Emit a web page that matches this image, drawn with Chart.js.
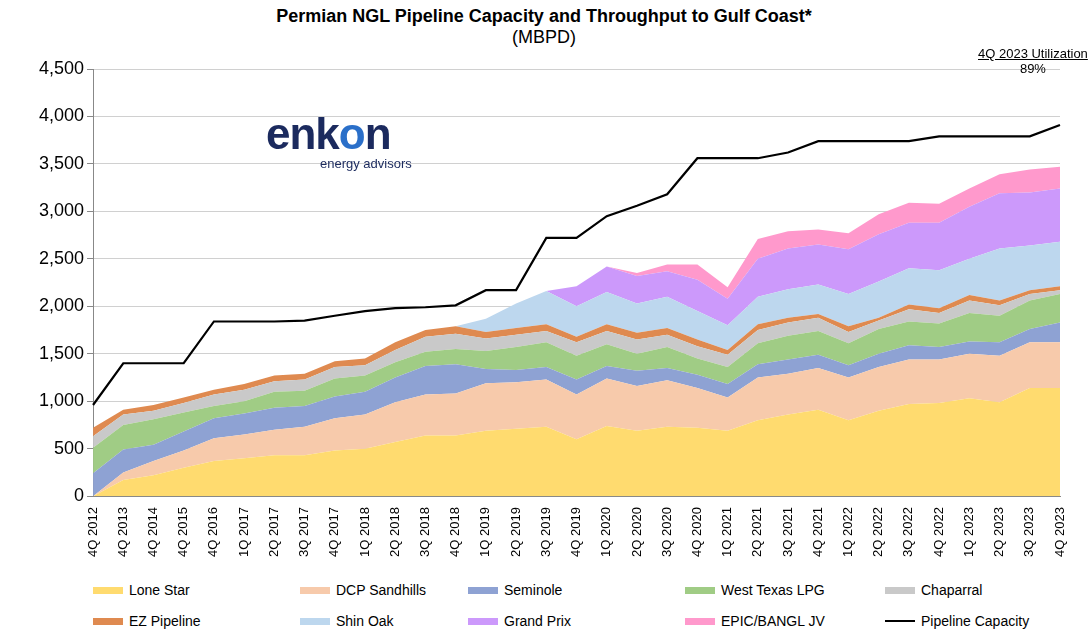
<!DOCTYPE html>
<html>
<head>
<meta charset="utf-8">
<script src="https://cdn.jsdelivr.net/npm/chart.js@4"></script>
<style>
body { margin: 0; background: #fff; font-family: "Liberation Sans", Arial, sans-serif; }
#wrap { position: relative; width: 1088px; height: 640px; }
#title { position: absolute; top: 6px; left: 0; width: 1088px; text-align: center; font-size: 18px; color: #000; }
#util { position: absolute; top: 46px; left: 978px; font-size: 13px; text-align: center; white-space: nowrap; }
#logo { position: absolute; top: 112px; left: 266px; color: #1b2a5e; z-index: 2; }
#chartBox { position: absolute; left: 0; top: 50px; width: 1088px; height: 510px; }
#legend { position: absolute; top: 582px; left: 0; width: 1088px; font-size: 14px; }
.item { position: absolute; display: flex; align-items: center; }
.sw { width: 30px; height: 7px; margin-right: 6px; }
</style>
</head>
<body>
<div id="wrap">
  <div id="chartBox"><canvas id="chart" width="1088" height="510"></canvas></div>
  <div id="title"><b>Permian NGL Pipeline Capacity and Throughput to Gulf Coast*</b><br>(MBPD)</div>
  <div id="util"><u>4Q 2023 Utilization</u><br>89%</div>
  <div id="logo">
    <div style="font-size:44px; font-weight:bold; letter-spacing:-1px; line-height:44px;">enk<span style="color:#2a6fc9;">o</span>n</div>
    <div style="font-size:13px; margin-left:54px;">energy advisors</div>
  </div>
  <div id="legend"></div>
</div>
<script>
var quarters = ["4Q 2012", "4Q 2013", "4Q 2014", "4Q 2015", "4Q 2016", "1Q 2017", "2Q 2017", "3Q 2017", "4Q 2017",
    "1Q 2018", "2Q 2018", "3Q 2018", "4Q 2018", "1Q 2019", "2Q 2019", "3Q 2019", "4Q 2019", "1Q 2020", "2Q 2020",
    "3Q 2020", "4Q 2020", "1Q 2021", "2Q 2021", "3Q 2021", "4Q 2021", "1Q 2022", "2Q 2022", "3Q 2022", "4Q 2022",
    "1Q 2023", "2Q 2023", "3Q 2023", "4Q 2023"];

// top edge of each band (cumulative MBPD)
var loneStarTop = [0, 170, 220, 300, 370, 400, 430, 430, 480, 500, 570, 640, 640, 690, 710, 730, 600, 740, 690,
    730, 720, 690, 800, 860, 910, 800, 900, 970, 980, 1030, 990, 1140, 1140];
var sandhillsTop = [0, 250, 370, 480, 610, 650, 700, 730, 820, 860, 990, 1070, 1080, 1190, 1200, 1230, 1070, 1240, 1160,
    1220, 1140, 1040, 1250, 1290, 1350, 1250, 1360, 1440, 1440, 1500, 1480, 1620, 1620];
var seminoleTop = [240, 490, 540, 680, 820, 870, 930, 950, 1050, 1100, 1250, 1370, 1390, 1340, 1330, 1360, 1230, 1370, 1320,
    1350, 1280, 1180, 1390, 1440, 1490, 1380, 1500, 1590, 1570, 1630, 1620, 1760, 1830];
var wtlpgTop = [510, 750, 810, 880, 950, 1000, 1100, 1110, 1240, 1270, 1410, 1520, 1550, 1530, 1570, 1620, 1480, 1600, 1500,
    1570, 1450, 1360, 1610, 1690, 1740, 1610, 1760, 1840, 1820, 1930, 1900, 2060, 2130];
var chaparralTop = [630, 860, 900, 980, 1070, 1120, 1210, 1230, 1360, 1380, 1540, 1680, 1710, 1660, 1700, 1740, 1620, 1740, 1650,
    1700, 1580, 1490, 1750, 1830, 1880, 1730, 1850, 1970, 1930, 2060, 2010, 2130, 2170];
var ezTop = [720, 910, 960, 1040, 1120, 1180, 1270, 1290, 1420, 1450, 1620, 1750, 1790, 1730, 1770, 1810, 1680, 1810, 1720,
    1770, 1650, 1540, 1810, 1880, 1920, 1790, 1880, 2020, 1980, 2120, 2060, 2170, 2210];
var shinOakTop = [null, null, null, null, null, null, null, null, null, null, null, null, 1790, 1870, 2030, 2160, 2000, 2150, 2030,
    2100, 1950, 1800, 2100, 2180, 2230, 2130, 2260, 2400, 2380, 2500, 2610, 2640, 2680];
var grandPrixTop = [null, null, null, null, null, null, null, null, null, null, null, null, null, null, null, 2160, 2210, 2420, 2320,
    2370, 2280, 2080, 2500, 2610, 2650, 2600, 2760, 2880, 2880, 3050, 3190, 3200, 3240];
var epicTop = [null, null, null, null, null, null, null, null, null, null, null, null, null, null, null, null, 2210, 2420, 2350,
    2440, 2440, 2200, 2710, 2790, 2810, 2770, 2970, 3090, 3080, 3240, 3390, 3440, 3470];
var capacity = [960, 1400, 1400, 1400, 1840, 1840, 1840, 1850, 1900, 1950, 1980, 1990, 2010, 2170, 2170, 2720, 2720, 2950, 3060,
    3180, 3560, 3560, 3560, 3620, 3740, 3740, 3740, 3740, 3790, 3790, 3790, 3790, 3910];
var yTicks = [0, 500, 1000, 1500, 2000, 2500, 3000, 3500, 4000, 4500];

var bands = [
    { label: "Lone Star", data: loneStarTop, color: "#ffdb6f", fill: "origin" },
    { label: "DCP Sandhills", data: sandhillsTop, color: "#f7caab", fill: "-1" },
    { label: "Seminole", data: seminoleTop, color: "#8ea2d3", fill: "-1" },
    { label: "West Texas LPG", data: wtlpgTop, color: "#a0cc85", fill: "-1" },
    { label: "Chaparral", data: chaparralTop, color: "#c9c9c9", fill: "-1" },
    { label: "EZ Pipeline", data: ezTop, color: "#df8a50", fill: "-1" },
    { label: "Shin Oak", data: shinOakTop, color: "#bdd7ee", fill: "-1" },
    { label: "Grand Prix", data: grandPrixTop, color: "#cc99fb", fill: "-1" },
    { label: "EPIC/BANGL JV", data: epicTop, color: "#ff99cc", fill: "-1" }
];

var datasets = bands.map(function(b) {
    return { label: b.label, data: b.data, backgroundColor: b.color, borderColor: b.color, borderWidth: 0,
        pointRadius: 0, fill: b.fill, tension: 0, order: 2 };
});
datasets.push({ label: "Pipeline Capacity", data: capacity, borderColor: "#000", borderWidth: 2.2,
    pointRadius: 0, fill: false, tension: 0, order: 1 });

new Chart(document.getElementById("chart"), {
    type: "line",
    data: { labels: quarters, datasets: datasets },
    options: {
        responsive: false, animation: false, maintainAspectRatio: false,
        layout: { padding: { left: 36, right: 28, top: 19 } },
        plugins: { legend: { display: false }, tooltip: { enabled: false } },
        scales: {
            x: {
                grid: { display: false },
                border: { color: "#888" },
                ticks: { maxRotation: 90, minRotation: 90, autoSkip: false, color: "#000",
                    font: { family: "Liberation Sans", size: 13 } }
            },
            y: {
                min: 0, max: 4500,
                afterBuildTicks: function(axis) { axis.ticks = yTicks.map(function(v) { return { value: v }; }); },
                grid: { color: "#d0d0d0", tickColor: "#888", tickLength: 6 },
                border: { color: "#888" },
                ticks: { color: "#000", font: { family: "Liberation Sans", size: 18 },
                    callback: function(v) { return v.toLocaleString("en-US"); } }
            }
        }
    }
});

var legendPos = [[93, 0], [300, 0], [468, 0], [685, 0], [885, 0], [93, 31], [300, 31], [468, 31], [685, 31], [885, 31]];
var legendHtml = "";
datasets.forEach(function(d, i) {
    var sw = d.fill === false
        ? "<div class='sw' style='height:2px;background:#000'></div>"
        : "<div class='sw' style='background:" + d.backgroundColor + "'></div>";
    legendHtml += "<div class='item' style='left:" + legendPos[i][0] + "px;top:" + legendPos[i][1] + "px'>" + sw + d.label + "</div>";
});
document.getElementById("legend").innerHTML = legendHtml;
</script>
</body>
</html>
